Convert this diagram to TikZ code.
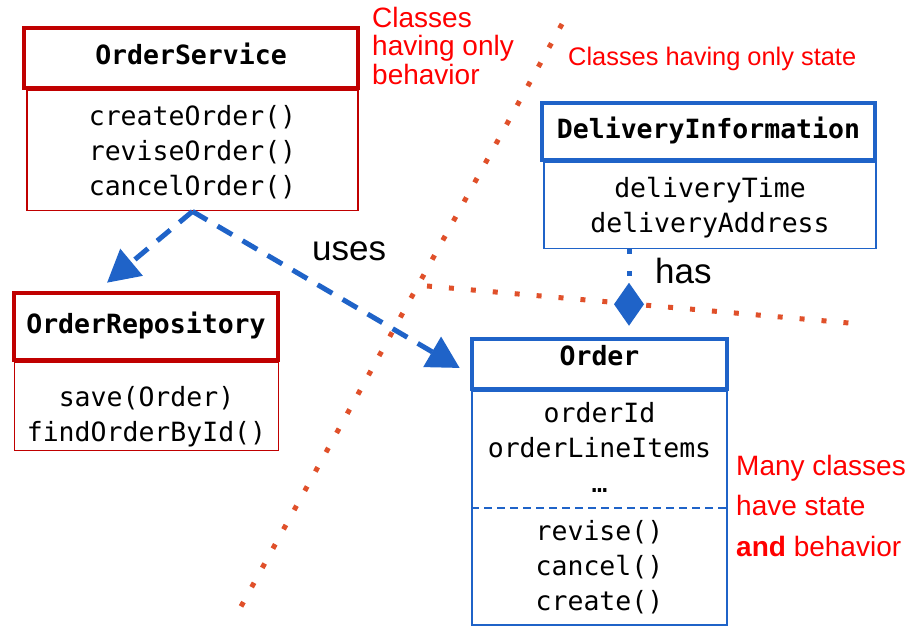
\documentclass[tikz,border=0pt]{standalone}
\usepackage{fontspec}
\setmainfont{Liberation Sans}
\newfontfamily\codefont{DejaVu Sans Mono}
\usetikzlibrary{arrows.meta}

\definecolor{svcred}{RGB}{192,0,0}
\definecolor{modelblue}{RGB}{31,99,200}
\definecolor{splitorange}{RGB}{224,80,42}

\begin{document}
\begin{tikzpicture}[
    x=1pt, y=-1pt,
    headbox/.style={
        draw,
        line width=4.5pt,
        inner sep=0pt,
        text height=19pt,
        text depth=6pt,
        font=\codefont\bfseries\fontsize{26.5}{35}\selectfont
    },
    bodybox/.style={
        draw,
        line width=1.8pt,
        align=center,
        inner sep=0pt,
        font=\codefont\fontsize{26.5}{35}\selectfont
    },
    codetext/.style={
        align=center,
        inner sep=0pt,
        font=\codefont\fontsize{26.5}{35}\selectfont
    },
    note/.style={text=red, align=left, inner sep=0pt, anchor=north west},
    uses/.style={modelblue, line width=5pt, dash pattern=on 17pt off 12pt,
        -{Triangle[length=32pt,width=34pt]}},
    has/.style={modelblue, line width=5pt, dash pattern=on 5pt off 17pt,
        -{Diamond[length=43pt,width=30pt]}},
    split/.style={splitorange, line width=5pt, dash pattern=on 5pt off 17pt},
    reltext/.style={font=\fontsize{35}{40}\selectfont, inner sep=0pt, anchor=base west}
]
\useasboundingbox (0,0) rectangle (916,632);

% borders between the kinds of classes
\draw[split] (562,24) -- (233,621);
\draw[split] (427,286) -- (849,323);

% behavior only
\node[headbox, svcred, text=black, minimum width=334pt, minimum height=60pt]
    (svc_head) at (191,58) {OrderService};
\node[bodybox, svcred, text=black, minimum width=331pt, minimum height=120pt]
    (svc_body) at (192.5,150.5) {\rule{0pt}{23pt}createOrder()\\reviseOrder()\\cancelOrder()};

\node[headbox, svcred, text=black, minimum width=264pt, minimum height=67pt]
    (repo_head) at (146,326.5) {OrderRepository};
\node[bodybox, svcred, text=black, minimum width=264pt, minimum height=88pt]
    (repo_body) at (146.5,406.5) {\rule{0pt}{41pt}save(Order)\\findOrderById()};

% state only
\node[headbox, modelblue, text=black, minimum width=333pt, minimum height=57pt]
    (info_head) at (708.5,131.5) {DeliveryInformation};
\node[bodybox, modelblue, text=black, minimum width=332pt, minimum height=86pt]
    (info_body) at (710,205.5) {\rule{0pt}{24pt}deliveryTime\\deliveryAddress};

% state and behavior
\node[headbox, modelblue, text=black, text depth=16pt, minimum width=255pt, minimum height=50pt]
    (order_head) at (599.5,364) {Order};
\node[bodybox, modelblue, minimum width=255pt, minimum height=234pt]
    (order_body) at (599.5,508) {};
\node[codetext] (order_attrs) at (599.5,447.5) {orderId\\orderLineItems\\…};
\node[codetext] (order_ops) at (599.5,567) {revise()\\cancel()\\create()};
\draw[modelblue, line width=1.6pt, dash pattern=on 8pt off 5pt]
    (order_body.west) -- (order_body.east);

% relations
\draw[uses] (svc_body.south) -- ([xshift=-39pt,yshift=8pt]repo_head.north);
\draw[uses] (svc_body.south) -- ([xshift=-10pt,yshift=-4pt]order_head.west);
\node[reltext] (uses_lbl) at (312,260) {uses};

\draw[has] ([xshift=-81pt]info_body.south) -- ([xshift=29.5pt,yshift=11pt]order_head.north);
\node[reltext] (has_lbl) at (655,283) {has};

% notes
\node[note, font=\fontsize{28}{28.5}\selectfont] (behavior_note) at (372,6.6)
    {Classes\\having only\\behavior};
\node[note, font=\fontsize{25.4}{30}\selectfont] (state_note) at (568,47)
    {Classes having only state};
\node[note, font=\fontsize{28}{40.5}\selectfont] (mixed_note) at (736,454.6)
    {Many classes\\have state\\\textbf{and} behavior};

\end{tikzpicture}
\end{document}
